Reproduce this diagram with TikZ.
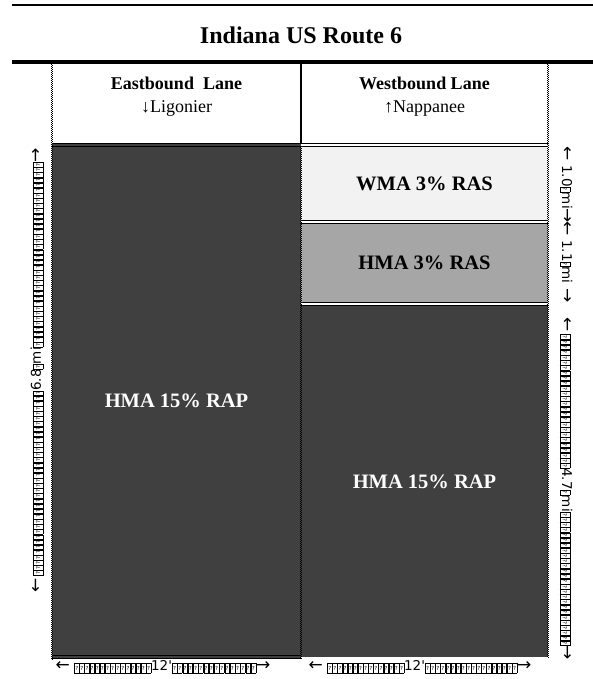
\documentclass[tikz,border=0pt]{standalone}
\usepackage{fontspec}
\setmainfont{Liberation Serif}
\newfontfamily\dimfont{DejaVu Sans}[Ligatures=TeXOff]
\definecolor{asphaltdark}{HTML}{404040}
\definecolor{asphaltmid}{HTML}{A6A6A6}
\definecolor{asphaltlight}{HTML}{F2F2F2}
% a missing-glyph box, and a strip of them filling a given length
\newcommand\tofu{\raisebox{-0.8pt}{\setlength\fboxsep{0pt}\setlength\fboxrule{0.45pt}\fbox{\parbox[c][9.4pt][c]{4.2pt}{\centering\fontsize{5.5}{5.5}\selectfont ?}}}}
\newcommand\tofustrip[1]{\hbox to #1{\xleaders\hbox{\tofu}\hfill}}
% dimension arrows, set a little larger than the figures
\newcommand\dimleft{{\fontsize{17}{17}\selectfont ←}}
\newcommand\dimright{{\fontsize{17}{17}\selectfont →}}

\begin{document}
\begin{tikzpicture}[x=1pt,y=-1pt,
  cell/.style={rectangle, inner sep=0pt, outer sep=0pt, anchor=north west,
               font=\fontsize{20.5}{24}\selectfont\bfseries},
  header/.style={align=center, font=\fontsize{18}{23}\selectfont},
  dimlabel/.style={inner sep=0pt, font=\dimfont\fontsize{13.5}{14}\selectfont},
  seam/.style={draw=black, line width=1.3pt, double distance=1.5pt},
  checker/.style={line width=1pt, dash pattern=on 1pt off 1pt}]
\useasboundingbox (0,0) rectangle (593,679);
\fill[white] (0,0) rectangle (593,679);

% title rules
\draw[line width=1.3pt] (12,5) -- (593,5);
\node[font=\fontsize{24}{28}\selectfont\bfseries] (title) at (301,35) {Indiana US Route 6};

% lane headers
\node[header] (eastHead) at (176.5,97) {{\bfseries Eastbound\ \ Lane}\\↓Ligonier};
\node[header] (westHead) at (424.5,97) {{\bfseries Westbound Lane}\\↑Nappanee};

% pavement sections
\node[cell, minimum width=249pt, minimum height=516pt, fill=asphaltdark, text=white] (eastRAP) at (52,143) {HMA 15\% RAP};
\node[cell, minimum width=247pt, minimum height=73pt, fill=asphaltlight] (westWMA) at (301,147) {WMA 3\% RAS};
\node[cell, minimum width=247pt, minimum height=78pt, fill=asphaltmid] (westHMA) at (301,224) {HMA 3\% RAS};
\node[cell, minimum width=247pt, minimum height=351pt, fill=asphaltdark, text=white] (westRAP) at (301,306) {HMA 15\% RAP};

% section seams
\draw[seam, double=asphaltdark] (52,145) -- (301,145);
\draw[seam, double=white] (301,145) -- (548,145);
\draw[seam, double=white] (301,222) -- (548,222);
\draw[seam, double=white] (301,304) -- (548,304);
\draw[seam, double=asphaltdark] (52,657) -- (301,657);

% lane borders
\draw[line width=1.5pt] (301,62) -- (301,143);
\foreach \x/\a/\b in {52/62/660, 548/62/658, 301/147/659}{
  \draw[checker] (\x-0.5,\a) -- (\x-0.5,\b);
  \draw[checker, dash phase=1pt] (\x+0.5,\a) -- (\x+0.5,\b);
}
\draw[line width=3.5pt] (12,62) -- (593,62);

% dimensions
\node[dimlabel, rotate=90] (dimEast) at (37,370) {\dimleft\,\tofustrip{185pt}6.8\tofu{}mi\tofustrip{185pt}\dimright};
\node[dimlabel, rotate=-90] (dimWMA) at (566,185) {\dimleft\ 1.0\tofu{}mi\dimright};
\node[dimlabel, rotate=-90] (dimHMA) at (566,262) {\dimleft\ 1.1\tofu{}mi \dimright};
\node[dimlabel, rotate=-90] (dimRAP) at (566,489) {\dimleft\,\tofustrip{134pt}4.7\tofu{}mi\tofustrip{134pt}\dimright};
\node[dimlabel] (widthEast) at (163,667) {\dimleft\ \tofustrip{77pt}12'\tofu\tofustrip{79pt}\dimright};
\node[dimlabel] (widthWest) at (420,667) {\dimleft\ \tofustrip{77pt}12'\tofu\tofustrip{87pt}\dimright};
\end{tikzpicture}
\end{document}
